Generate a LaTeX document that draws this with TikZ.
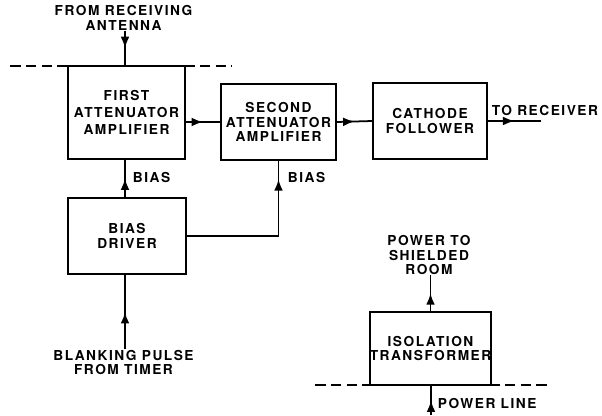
\documentclass[tikz,border=0pt]{standalone}
\usepackage{fontspec}
\setmainfont{TeX Gyre Heros}[LetterSpace=11, BoldFeatures={LetterSpace=11}]
\usetikzlibrary{arrows.meta,decorations.markings}

\tikzset{
  block/.style={draw, line width=1pt, align=center, inner sep=0pt,
    minimum width=2.28cm, minimum height=1.52cm},
  caption/.style={align=center, inner sep=0pt},
  midarrow/.style={postaction={decorate}, decoration={markings,
    mark=at position #1 with {\arrow{Latex[length=6.5pt,width=5pt]}}}},
  midarrow/.default=0.5
}

\begin{document}
\begin{tikzpicture}[line width=1pt, font=\fontsize{7.8}{8.2}\selectfont\bfseries]
    \useasboundingbox (0,0) rectangle (12.04,8.3);

    % signal path
    \node[block, minimum width=2.34cm, minimum height=1.86cm, font=\fontsize{7.8}{9.5}\selectfont\bfseries]
        (first) at (2.53,6.05) {FIRST\\ATTENUATOR\\AMPLIFIER};
    \node[block, minimum width=2.30cm] (second) at (5.57,5.86) {SECOND\\ATTENUATOR\\AMPLIFIER};
    \node[block] (cathode) at (8.60,5.88) {CATHODE\\FOLLOWER};
    \node[caption] (antenna) at (2.47,7.94) {FROM RECEIVING\\ANTENNA};
    \draw[dashed, dash pattern=on 6pt off 3pt] (0.2,6.98) -- (4.64,6.98);
    \draw[midarrow] (antenna.south -| 2.5,0) -- (first.north -| 2.5,0);
    \draw[midarrow] (first.east |- second.west) -- (second.west);
    \draw[midarrow] (second.east) -- (cathode.west);
    \draw[midarrow] (cathode.east) -- ++(1.06,0) coordinate (rx);
    \node[caption, anchor=south west] (torx) at ([xshift=1.7pt,yshift=2.3pt]cathode.east) {TO RECEIVER};

    % bias
    \node[block, minimum width=2.36cm] (driver) at (2.54,3.58) {BIAS\\DRIVER};
    \node[caption] (blank) at (2.47,1.05) {BLANKING PULSE\\FROM TIMER};
    \draw[midarrow] (driver.north -| 2.5,0) -- (first.south -| 2.5,0);
    \draw[midarrow=0.89] (driver.east) -| (second.south);
    \draw[midarrow] (blank.north -| 2.5,0) -- (driver.south -| 2.5,0);
    \node[caption, anchor=west] (biasa) at (2.64,4.76) {BIAS};
    \node[caption, anchor=west] (biasb) at (5.74,4.76) {BIAS};

    % mains supply
    \node[block, minimum width=2.34cm, minimum height=1.46cm] (iso) at (8.61,1.33) {ISOLATION\\TRANSFORMER};
    \node[caption] (room) at (8.58,3.2) {POWER TO\\SHIELDED\\ROOM};
    \coordinate (mains) at (8.62,0);
    \draw[dashed, dash pattern=on 6pt off 3pt] (6.3,0.6) -- (10.94,0.6);
    \draw[midarrow] (iso.north) -- (iso.north |- room.south);
    \draw[midarrow] (mains) -- (mains |- iso.south);
    \node[caption, anchor=west] (line) at (8.74,0.24) {POWER LINE};
\end{tikzpicture}
\end{document}
